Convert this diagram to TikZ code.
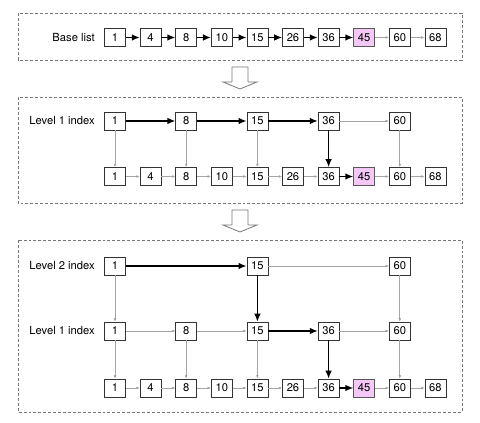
\documentclass[tikz,border=0pt]{standalone}
\usepackage{fontspec}
\setmainfont{TeX Gyre Heros}
\usepackage{tikz}
\usetikzlibrary{arrows.meta}
\definecolor{hitpink}{RGB}{243,199,246}
\definecolor{linkgray}{RGB}{165,165,165}
\definecolor{framegray}{RGB}{120,120,120}
\tikzset{
  box/.style={shape=rectangle,draw=black!80,line width=0.5pt,fill=white,minimum width=15.75pt,minimum height=13.5pt,inner sep=0pt,font=\fontsize{8.4}{10}\selectfont},
  hit/.style={box,fill=hitpink,draw=black!65},
  lbl/.style={anchor=east,inner sep=0pt,font=\fontsize{8.4}{10}\selectfont},
  hot/.style={draw=black,line width=1.1pt,-{Latex[length=6pt,width=5pt]}},
  cold/.style={draw=linkgray,line width=0.5pt,-{Latex[length=2.5pt,width=2pt]}},
  frame/.style={draw=framegray,line width=0.6pt,dash pattern=on 2.2pt off 1.5pt},
  hollow/.style={draw=framegray,line width=0.6pt,fill=white}
}

\begin{document}
\begin{tikzpicture}[x=0.75pt,y=-0.75pt]
        \useasboundingbox (0,0) rectangle (480,423);

        % frames and hollow arrows
        \draw[frame] (18,13) rectangle (462,60);
        \draw[frame] (18,97) rectangle (462,203);
        \draw[frame] (18,240) rectangle (462,412);
        \draw[hollow] (232,67) -- (248,67) -- (248,82) -- (257,82) -- (240,89) -- (223,82) -- (232,82) -- cycle;
        \draw[hollow] (232,210) -- (248,210) -- (248,225) -- (257,225) -- (240,232) -- (223,225) -- (232,225) -- cycle;

        % base list
        \node[lbl] (ta) at (95, 37.5) {Base list};
        \node[box] (a1) at (115, 37.5) {1};
        \node[box] (a4) at (150.6, 37.5) {4};
        \node[box] (a8) at (186.2, 37.5) {8};
        \node[box] (a10) at (221.8, 37.5) {10};
        \node[box] (a15) at (257.4, 37.5) {15};
        \node[box] (a26) at (293, 37.5) {26};
        \node[box] (a36) at (328.6, 37.5) {36};
        \node[hit] (a45) at (364.2, 37.5) {45};
        \node[box] (a60) at (399.8, 37.5) {60};
        \node[box] (a68) at (435.4, 37.5) {68};

	\path[hot] (a1) edge (a4);
	\path[hot] (a4) edge (a8);
	\path[hot] (a8) edge (a10);
	\path[hot] (a10) edge (a15);
	\path[hot] (a15) edge (a26);
	\path[hot] (a26) edge (a36);
	\path[hot] (a36) edge (a45);
	\path[cold] (a45) edge (a60);
	\path[cold] (a60) edge (a68);

        % one index level
        \node[lbl] (tc) at (95, 121) {Level 1 index};
        \node[box] (c1) at (115, 121) {1};
        \node[box] (c8) at (186.2, 121) {8};
        \node[box] (c15) at (257.4, 121) {15};
        \node[box] (c36) at (328.6, 121) {36};
        \node[box] (c60) at (399.8, 121) {60};

        \node[box] (d1) at (115, 176.5) {1};
        \node[box] (d4) at (150.6, 176.5) {4};
        \node[box] (d8) at (186.2, 176.5) {8};
        \node[box] (d10) at (221.8, 176.5) {10};
        \node[box] (d15) at (257.4, 176.5) {15};
        \node[box] (d26) at (293, 176.5) {26};
        \node[box] (d36) at (328.6, 176.5) {36};
        \node[hit] (d45) at (364.2, 176.5) {45};
        \node[box] (d60) at (399.8, 176.5) {60};
        \node[box] (d68) at (435.4, 176.5) {68};

	\path[hot] (c1) edge (c8);
	\path[hot] (c8) edge (c15);
	\path[hot] (c15) edge (c36);
	\path[cold] (c36) edge (c60);
	\path[cold] (c1) edge (d1);
	\path[cold] (c8) edge (d8);
	\path[cold] (c15) edge (d15);
	\path[hot] (c36) edge (d36);
	\path[cold] (c60) edge (d60);
	\path[cold] (d1) edge (d4);
	\path[cold] (d4) edge (d8);
	\path[cold] (d8) edge (d10);
	\path[cold] (d10) edge (d15);
	\path[cold] (d15) edge (d26);
	\path[cold] (d26) edge (d36);
	\path[hot] (d36) edge (d45);
	\path[cold] (d45) edge (d60);
	\path[cold] (d60) edge (d68);

        % two index levels
        \node[lbl] (te) at (95, 266) {Level 2 index};
        \node[box] (e1) at (115, 266) {1};
        \node[box] (e15) at (257.4, 266) {15};
        \node[box] (e60) at (399.8, 266) {60};

        \node[lbl] (tf) at (95, 331) {Level 1 index};
        \node[box] (f1) at (115, 331) {1};
        \node[box] (f8) at (186.2, 331) {8};
        \node[box] (f15) at (257.4, 331) {15};
        \node[box] (f36) at (328.6, 331) {36};
        \node[box] (f60) at (399.8, 331) {60};

        \node[box] (g1) at (115, 388) {1};
        \node[box] (g4) at (150.6, 388) {4};
        \node[box] (g8) at (186.2, 388) {8};
        \node[box] (g10) at (221.8, 388) {10};
        \node[box] (g15) at (257.4, 388) {15};
        \node[box] (g26) at (293, 388) {26};
        \node[box] (g36) at (328.6, 388) {36};
        \node[hit] (g45) at (364.2, 388) {45};
        \node[box] (g60) at (399.8, 388) {60};
        \node[box] (g68) at (435.4, 388) {68};

	\path[hot] (e1) edge (e15);
	\path[cold] (e15) edge (e60);
	\path[cold] (e1) edge (f1);
	\path[hot] (e15) edge (f15);
	\path[cold] (e60) edge (f60);
	\path[cold] (f1) edge (f8);
	\path[cold] (f8) edge (f15);
	\path[hot] (f15) edge (f36);
	\path[cold] (f36) edge (f60);
	\path[cold] (f1) edge (g1);
	\path[cold] (f8) edge (g8);
	\path[cold] (f15) edge (g15);
	\path[hot] (f36) edge (g36);
	\path[cold] (f60) edge (g60);
	\path[cold] (g1) edge (g4);
	\path[cold] (g4) edge (g8);
	\path[cold] (g8) edge (g10);
	\path[cold] (g10) edge (g15);
	\path[cold] (g15) edge (g26);
	\path[cold] (g26) edge (g36);
	\path[hot] (g36) edge (g45);
	\path[cold] (g45) edge (g60);
	\path[cold] (g60) edge (g68);
	\end{tikzpicture}
\end{document}
